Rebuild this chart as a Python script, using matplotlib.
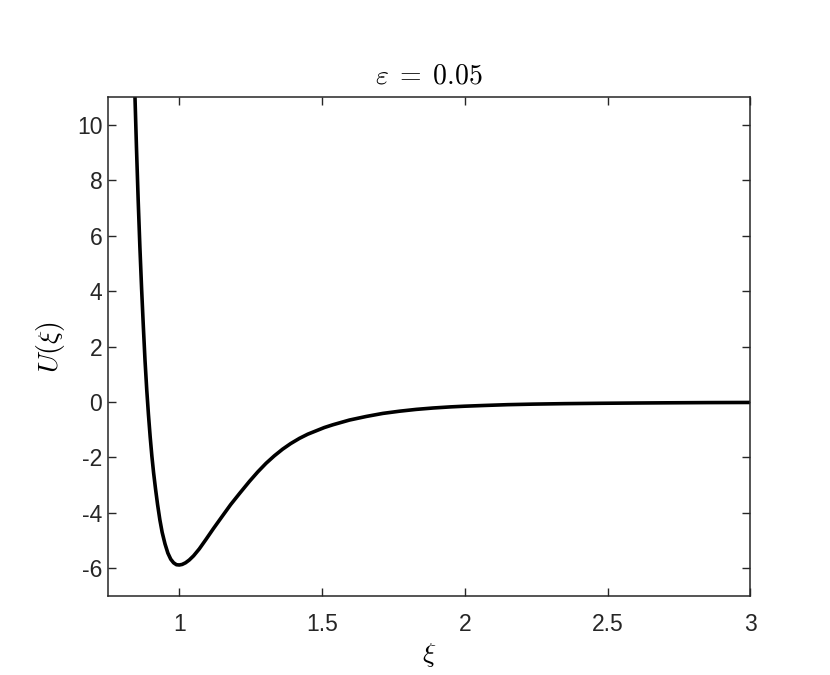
"""
Potential curve U(xi) for eps = 0.05, MATLAB-like styling.
"""

import matplotlib
matplotlib.use('Agg')
import matplotlib.pyplot as plt

# values
xi = [0.838, 0.844, 0.850, 0.856, 0.862, 0.868, 0.874, 0.880, 0.886, 0.892,
      0.898, 0.904, 0.910, 0.917, 0.924, 0.932, 0.940, 0.950, 0.960, 0.970,
      0.980, 0.990, 1.000, 1.010, 1.022, 1.035, 1.050, 1.070, 1.094, 1.120,
      1.152, 1.180, 1.211, 1.246, 1.275, 1.304, 1.333, 1.362, 1.390, 1.421,
      1.450, 1.479, 1.508, 1.538, 1.596, 1.655, 1.713, 1.772, 1.830, 1.889,
      1.950, 2.000, 2.065, 2.150, 2.240, 2.350, 2.474, 2.600, 2.708, 2.850,
      3.000]
U = [13.8, 11.3, 9.2, 7.3, 5.6, 4.1, 2.75, 1.5, 0.45, -0.45,
     -1.25, -1.95, -2.55, -3.15, -3.70, -4.25, -4.70, -5.12, -5.45, -5.67,
     -5.80, -5.87, -5.88, -5.86, -5.80, -5.70, -5.55, -5.30, -4.95, -4.56,
     -4.10, -3.70, -3.30, -2.86, -2.52, -2.21, -1.94, -1.70, -1.50, -1.31,
     -1.16, -1.04, -0.92, -0.82, -0.65, -0.52, -0.41, -0.33, -0.265, -0.215,
     -0.175, -0.15, -0.125, -0.095, -0.075, -0.058, -0.045, -0.035, -0.028, -0.020,
     -0.015]

xticks = [1, 1.5, 2, 2.5, 3]
xticklabels = ['1', '1.5', '2', '2.5', '3']
yticks = [-6, -4, -2, 0, 2, 4, 6, 8, 10]
yticklabels = ['-6', '-4', '-2', '0', '2', '4', '6', '8', '10']

AXCOL = '#262626'

plt.rcParams['font.family'] = ['Liberation Sans', 'DejaVu Sans']
plt.rcParams['mathtext.fontset'] = 'cm'
plt.rcParams['axes.unicode_minus'] = False

fig = plt.figure(figsize=(8.3, 6.75), dpi=100)
ax = fig.add_axes([0.130, 0.117, 0.774, 0.739])

ax.plot(xi, U, color='black', linewidth=2.6, solid_joinstyle='round')

ax.set_xlim(0.75, 3)
ax.set_ylim(-7, 11)
ax.set_xticks(xticks)
ax.set_xticklabels(xticklabels)
ax.set_yticks(yticks)
ax.set_yticklabels(yticklabels)

ax.tick_params(direction='in', length=5.5, width=1.0, colors=AXCOL,
               labelsize=16.5, top=True, right=True)
ax.tick_params(axis='x', pad=12)
ax.tick_params(axis='y', pad=4)
for sp in ax.spines.values():
    sp.set_color(AXCOL)
    sp.set_linewidth(1.1)

ax.set_title(r'$\varepsilon\;=\;0.05$', fontsize=20, color='black', pad=10)
ax.set_xlabel(r'$\xi$', fontsize=20, labelpad=4)
ax.set_ylabel(r'$U(\xi)$', fontsize=20, labelpad=7)

fig.savefig('out.png', dpi=100, facecolor='white')
plt.close(fig)
